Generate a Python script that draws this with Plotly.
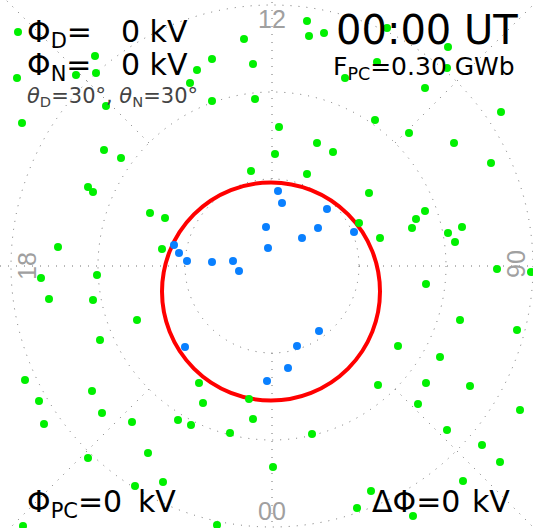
import plotly.graph_objects as go
import numpy as np

# Plane coordinates (1 unit = 1 px of the original), magnetic pole at origin,
# noon (12 MLT) up, dusk (18) left, dawn (06) right, midnight (00) down.
GREEN_X = [-254, -177, -196, -176, -255, -166, -75, -82, -60, -60, 35, 37, 52, 115, 176, 175, 105, 73, 153,
           -28, -19, -17, 7, 45, 3, -21, 35, 229, 137, 182, 219, 153, 144, 140, 176, 190, 183, 108, 225, 154,
           259, -214, -231, -175, -110, -223, -179, 97, -122, -107, 87, -73, -69, -23, 106, -19, 40, 1, -42,
           -247, -180, -233, -170, -140, -228, -94, -81, -124, -184, -109, -137, -249, -55, 99, 85, 141, 191,
           -250, -184, -179, -168, -151, 103, 61, 188, 245, 126, 168, 154, 198, 146, 248, 175, 210, 228,
           -172, -135]
GREEN_Y = [234, 210, 191, 193, 188, 160, 196, 183, 207, 165, 245, 230, 233, 238, 219, 198, 204, 188, 178,
           227, 202, 167, 139, 123, 112, 95, 92, 154, 133, 123, 103, 55, 47, 38, 33, 39, 24, 28, -3, -18,
           -6, 19, -12, -9, 17, -33, -34, 73, 53, 48, 43, -117, -137, -133, -119, -153, -168, -201, -167,
           -114, -125, -135, -147, -156, -158, -154, -159, -187, -192, -216, -220, -260, -259, -225, -242, -250, -215,
           143, 79, 74, 116, 108, 146, 114, -54, -64, -80, -91, -117, -120, -138, -144, -164, -179, -196,
           -74, -54]

BLUE_X = [6, 10, 55, -6, 46, 30, 82, -98, -93, -85, -60, -39, -33, -4, 47, 25, -87, 16, -5]
BLUE_Y = [75, 63, 57, 39, 38, 28, 34, 21, 13, 5, 4, 5, -5, 18, -65, -80, -81, -102, -115]

FIT_CENTER_X = -1
FIT_CENTER_Y = -25.5
FIT_RADIUS = 109

GRID_RADII = [87, 174, 261]
HOUR_LABELS = ["12", "18", "00", "06"]

PHI_D = 0
PHI_N = 0
THETA_D = 30
THETA_N = 30
UT_LABEL = "00:00 UT"
F_PC = 0.30
PHI_PC = 0
DELTA_PHI = 0

XR = [-272, 261]
YR = [-262, 266]

fig = go.Figure()

GRID_COLOR = "#707070"
GRID_DASH = "1px,7px"

shapes = []
for r in GRID_RADII:
    shapes.append(dict(type="circle", xref="x", yref="y", x0=-r, x1=r, y0=-r, y1=r,
                       line=dict(color=GRID_COLOR, width=1, dash=GRID_DASH), layer="below"))
# radial MLT lines
r0, r1 = GRID_RADII[0], 420
for ang in [0, 90, 180, 270]:
    a = np.deg2rad(ang)
    shapes.append(dict(type="line", xref="x", yref="y",
                       x0=r0 * np.cos(a), y0=r0 * np.sin(a), x1=r1 * np.cos(a), y1=r1 * np.sin(a),
                       line=dict(color=GRID_COLOR, width=1, dash=GRID_DASH), layer="below"))
r0 = GRID_RADII[1]
for ang in [45, 135, 225, 315]:
    a = np.deg2rad(ang)
    shapes.append(dict(type="line", xref="x", yref="y",
                       x0=r0 * np.cos(a), y0=r0 * np.sin(a), x1=r1 * np.cos(a), y1=r1 * np.sin(a),
                       line=dict(color=GRID_COLOR, width=1, dash=GRID_DASH), layer="below"))
# fitted boundary circle
shapes.append(dict(type="circle", xref="x", yref="y",
                   x0=FIT_CENTER_X - FIT_RADIUS, x1=FIT_CENTER_X + FIT_RADIUS,
                   y0=FIT_CENTER_Y - FIT_RADIUS, y1=FIT_CENTER_Y + FIT_RADIUS,
                   line=dict(color="#ff0000", width=4), layer="below"))

fig.add_trace(go.Scatter(x=GREEN_X, y=GREEN_Y, mode="markers",
                         marker=dict(color="#00f000", size=8, line=dict(width=0)),
                         hoverinfo="skip"))
fig.add_trace(go.Scatter(x=BLUE_X, y=BLUE_Y, mode="markers",
                         marker=dict(color="#0a80ff", size=8, line=dict(width=0)),
                         hoverinfo="skip"))

BIG = "DejaVu Sans"
ann = []
def txt(text, x, y, size, xanchor="left", color="black", angle=0, family=BIG):
    ann.append(dict(text=text, x=x, y=y, xref="x", yref="y", showarrow=False,
                    xanchor=xanchor, yanchor="middle", textangle=angle,
                    font=dict(family=family, size=size, color=color)))

# hour labels
LAB_R = 247
txt(HOUR_LABELS[0], 0, LAB_R, 25, xanchor="center", color="#a0a0a0", family="Liberation Sans")
txt(HOUR_LABELS[2], 0, -LAB_R + 2, 25, xanchor="center", color="#a0a0a0", family="Liberation Sans")
txt(HOUR_LABELS[1], -LAB_R + 2, 0, 25, xanchor="center", color="#a0a0a0", angle=-90, family="Liberation Sans")
txt(HOUR_LABELS[3], LAB_R - 3, 2, 25, xanchor="center", color="#a0a0a0", angle=90, family="Liberation Sans")

txt("Φ<sub>D</sub>=", -247, 233, 30)
txt(f"{PHI_D} kV", -153, 235, 30)
txt("Φ<sub>N</sub>=", -247, 200, 30)
txt(f"{PHI_N} kV", -153, 202, 30)
txt(f"<i>θ</i><sub>D</sub>={THETA_D}°, <i>θ</i><sub>N</sub>={THETA_N}°", -247, 169, 21, color="#444444")
txt(UT_LABEL, 248, 236, 40, xanchor="right")
txt(f"F<sub>PC</sub>={F_PC:.2f} GWb", 245, 198, 25, xanchor="right")
txt(f"Φ<sub>PC</sub>={PHI_PC}", -247, -237, 30)
txt("kV", -136, -235, 30)
txt(f"ΔΦ={DELTA_PHI}", 98, -235, 30)
txt("kV", 198, -235, 30)

fig.update_layout(
    width=533, height=528,
    margin=dict(l=0, r=0, t=0, b=0),
    paper_bgcolor="white", plot_bgcolor="white",
    showlegend=False,
    xaxis=dict(range=XR, visible=False, fixedrange=True),
    yaxis=dict(range=YR, visible=False, fixedrange=True),
    shapes=shapes, annotations=ann,
)

fig.write_html("out.html", config={"displayModeBar": False, "staticPlot": True},
               post_script="document.body.style.margin='0';document.body.style.overflow='hidden';")
